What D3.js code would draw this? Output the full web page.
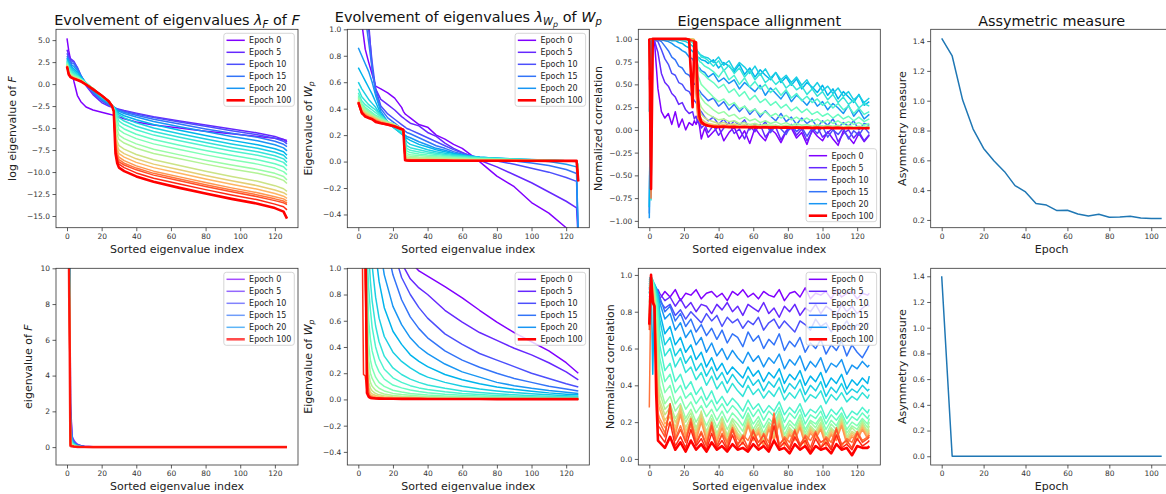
<!DOCTYPE html>
<html><head><meta charset="utf-8">
<script src="https://cdn.jsdelivr.net/npm/d3@7"></script>
<style>body{margin:0;background:#fff}svg{display:block}text{font-family:"DejaVu Sans",sans-serif}</style>
</head><body><svg id="c" width="1166" height="494"></svg>
<script>
// ---------------- data ----------------
const epochs = [0,5,10,15,20,25,30,35,40,45,50,55,60,65,70,75,80,85,90,95,100];
const legendEpochs = [0,5,10,15,20,100];
const xTicksIdx = [0,20,40,60,80,100,120];
const xTicksEpoch = [0,20,40,60,80,100];
const yTicksLogF = [-15,-12.5,-10,-7.5,-5,-2.5,0,2.5,5];
const yTicksWp = [-0.4,-0.2,0,0.2,0.4,0.6,0.8,1.0];
const yTicksAlign = [-1,-0.75,-0.5,-0.25,0,0.25,0.5,0.75,1];
const yTicksAsym = [0.2,0.4,0.6,0.8,1.0,1.2,1.4];
const yTicksF = [0,2,4,6,8,10];
const yTicksAlign2 = [0,0.2,0.4,0.6,0.8,1.0];
const yTicksAsym2 = [0,0.2,0.4,0.6,0.8,1.0,1.2,1.4];

// top-left: log eigenvalue of F
const idxLogF = [0,1,2,4,6,8,11,15,20,24,26,27,28,29,30,33,40,50,65,80,95,110,120,125,127];
const logF = [
[5.2,3.8,2.8,0.3,-1.3,-2.0,-2.6,-2.95,-3.2,-3.4,-3.5,-3.55,-3.6,-3.65,-3.75,-3.95,-4.3,-4.65,-5.0,-5.35,-5.65,-5.95,-6.15,-6.3,-6.4],
[3.9,3.3,2.9,2.6,1.8,0.9,-0.2,-1.2,-2.1,-2.5,-2.65,-2.7,-2.75,-2.8,-2.85,-3.0,-3.3,-3.7,-4.2,-4.65,-5.1,-5.55,-5.95,-6.3,-6.6],
[3.5,3.0,2.7,2.5,1.9,1.0,0.0,-1.0,-1.9,-2.4,-2.6,-2.7,-2.75,-2.85,-2.95,-3.1,-3.4,-3.8,-4.3,-4.8,-5.3,-5.75,-6.15,-6.5,-6.8],
[3.2,2.8,2.5,2.3,1.7,1.0,0.0,-0.9,-1.8,-2.3,-2.55,-2.65,-2.75,-2.9,-3.0,-3.2,-3.55,-4.0,-4.55,-5.1,-5.6,-6.05,-6.5,-6.85,-7.1],
[3.0,2.6,2.3,2.0,1.5,0.9,0.1,-0.8,-1.7,-2.2,-2.5,-2.6,-2.75,-2.95,-3.1,-3.35,-3.75,-4.25,-4.85,-5.4,-5.95,-6.45,-6.9,-7.25,-7.6],
[2.9,2.4,2.1,1.7,1.3,0.8,0.15,-0.7,-1.6,-2.1,-2.45,-2.6,-2.8,-3.05,-3.3,-3.6,-4.05,-4.6,-5.25,-5.85,-6.4,-6.9,-7.35,-7.7,-8.1],
[2.7,2.2,1.9,1.5,1.1,0.7,0.15,-0.6,-1.5,-2.05,-2.4,-2.6,-2.9,-3.2,-3.5,-3.85,-4.4,-5.0,-5.65,-6.25,-6.8,-7.3,-7.75,-8.1,-8.5],
[2.6,2.0,1.7,1.3,1.0,0.65,0.15,-0.55,-1.45,-2.0,-2.4,-2.65,-3.0,-3.4,-3.8,-4.2,-4.8,-5.4,-6.05,-6.65,-7.2,-7.7,-8.15,-8.5,-8.9],
[2.5,1.8,1.5,1.1,0.9,0.6,0.1,-0.5,-1.4,-2.0,-2.4,-2.7,-3.2,-3.7,-4.2,-4.6,-5.2,-5.8,-6.45,-7.05,-7.6,-8.1,-8.55,-8.9,-9.3],
[2.4,1.7,1.3,1.0,0.8,0.55,0.1,-0.5,-1.35,-1.95,-2.4,-2.75,-3.5,-4.1,-4.7,-5.1,-5.7,-6.3,-6.95,-7.55,-8.1,-8.6,-9.05,-9.4,-9.8],
[2.3,1.6,1.2,0.9,0.75,0.5,0.05,-0.5,-1.3,-1.95,-2.4,-2.8,-3.8,-4.6,-5.2,-5.6,-6.2,-6.8,-7.45,-8.05,-8.6,-9.1,-9.55,-9.95,-10.3],
[2.3,1.5,1.1,0.85,0.7,0.5,0.05,-0.5,-1.3,-1.9,-2.4,-2.85,-4.2,-5.2,-5.8,-6.2,-6.8,-7.4,-8.05,-8.65,-9.2,-9.7,-10.15,-10.5,-10.9],
[2.2,1.4,1.05,0.8,0.65,0.45,0.0,-0.5,-1.3,-1.9,-2.4,-2.9,-4.7,-5.8,-6.3,-6.7,-7.3,-7.9,-8.5,-9.1,-9.65,-10.15,-10.6,-10.95,-11.3],
[2.2,1.35,1.0,0.75,0.6,0.45,0.0,-0.5,-1.3,-1.9,-2.4,-2.95,-5.3,-6.5,-7.0,-7.4,-8.0,-8.6,-9.25,-9.9,-10.5,-11.05,-11.55,-11.9,-12.2],
[2.1,1.3,0.95,0.75,0.6,0.4,0.0,-0.5,-1.3,-1.9,-2.4,-3.0,-5.8,-7.0,-7.5,-7.9,-8.5,-9.1,-9.75,-10.4,-11.0,-11.55,-12.05,-12.35,-12.6],
[2.1,1.25,0.9,0.7,0.55,0.4,-0.05,-0.55,-1.3,-1.9,-2.45,-3.0,-6.2,-7.4,-7.9,-8.3,-8.9,-9.5,-10.15,-10.8,-11.4,-11.95,-12.45,-12.75,-13.0],
[2.05,1.2,0.9,0.7,0.55,0.35,-0.05,-0.55,-1.3,-1.9,-2.45,-3.05,-6.6,-7.8,-8.3,-8.7,-9.3,-9.9,-10.55,-11.2,-11.8,-12.35,-12.8,-13.05,-13.3],
[2.05,1.15,0.85,0.65,0.5,0.35,-0.05,-0.55,-1.3,-1.9,-2.45,-3.05,-7.0,-8.1,-8.6,-9.0,-9.55,-10.15,-10.8,-11.45,-12.05,-12.6,-13.05,-13.3,-13.55],
[2.0,1.1,0.85,0.65,0.5,0.35,-0.05,-0.55,-1.3,-1.9,-2.45,-3.1,-7.3,-8.4,-8.85,-9.2,-9.75,-10.35,-11.0,-11.65,-12.25,-12.8,-13.25,-13.5,-13.7],
[2.0,1.1,0.8,0.6,0.5,0.3,-0.05,-0.6,-1.3,-1.95,-2.5,-3.1,-7.6,-8.7,-9.1,-9.5,-10.1,-10.7,-11.35,-12.0,-12.6,-13.15,-13.65,-13.95,-14.3],
[2.0,1.1,0.8,0.6,0.45,0.3,-0.05,-0.6,-1.3,-1.95,-2.5,-3.1,-7.9,-9.0,-9.5,-9.9,-10.5,-11.1,-11.8,-12.45,-13.05,-13.6,-14.1,-14.5,-15.3]
];

// top row, 2nd: eigenvalues of Wp
const idxWp = [0,2,4,6,8,10,13,17,21,25,26,27,28,30,35,40,45,50,55,60,65,70,80,90,100,110,120,126,127];
const eigWp = [
[3.0,1.05,0.85,0.75,0.66,0.57,0.55,0.52,0.48,0.41,0.38,0.36,0.35,0.33,0.28,0.26,0.2,0.17,0.13,0.1,0.05,0.0,-0.11,-0.19,-0.31,-0.39,-0.5,-0.56,-0.6],
[2.5,1.8,1.4,1.05,0.7,0.55,0.47,0.43,0.39,0.34,0.33,0.32,0.31,0.29,0.27,0.22,0.19,0.14,0.1,0.07,0.04,0.01,-0.04,-0.1,-0.16,-0.23,-0.3,-0.35,-0.6],
[2.0,1.6,1.25,1.0,0.75,0.55,0.42,0.36,0.32,0.28,0.27,0.26,0.25,0.24,0.21,0.18,0.15,0.12,0.09,0.065,0.045,0.03,0.005,-0.02,-0.05,-0.08,-0.12,-0.15,-0.6],
[1.5,1.3,1.1,0.9,0.7,0.52,0.4,0.33,0.29,0.25,0.24,0.23,0.22,0.21,0.18,0.15,0.12,0.1,0.075,0.055,0.04,0.03,0.02,0.005,-0.01,-0.03,-0.06,-0.09,-0.6],
[0.86,0.8,0.74,0.68,0.6,0.5,0.38,0.3,0.26,0.22,0.21,0.2,0.19,0.18,0.15,0.125,0.1,0.085,0.065,0.05,0.04,0.032,0.025,0.018,0.01,0.0,-0.02,-0.04,-0.6],
[0.71,0.66,0.61,0.56,0.51,0.45,0.36,0.29,0.25,0.21,0.2,0.19,0.175,0.16,0.13,0.11,0.09,0.075,0.06,0.048,0.04,0.033,0.026,0.02,0.015,0.01,0.005,0.0,-0.1],
[0.6,0.55,0.51,0.47,0.44,0.41,0.35,0.29,0.25,0.21,0.2,0.18,0.15,0.13,0.11,0.09,0.075,0.063,0.053,0.045,0.038,0.032,0.025,0.019,0.014,0.01,0.006,0.002,-0.05],
[0.55,0.49,0.46,0.43,0.41,0.39,0.35,0.3,0.26,0.22,0.2,0.16,0.12,0.105,0.09,0.075,0.063,0.053,0.046,0.04,0.034,0.029,0.023,0.018,0.013,0.009,0.006,0.003,-0.04],
[0.52,0.46,0.43,0.41,0.39,0.37,0.34,0.3,0.27,0.23,0.21,0.14,0.1,0.085,0.073,0.062,0.053,0.045,0.039,0.034,0.03,0.026,0.021,0.016,0.012,0.009,0.006,0.004,-0.03],
[0.5,0.44,0.41,0.39,0.37,0.35,0.33,0.3,0.27,0.235,0.22,0.12,0.08,0.068,0.058,0.05,0.044,0.038,0.033,0.029,0.026,0.023,0.019,0.015,0.012,0.009,0.007,0.005,-0.03],
[0.49,0.43,0.4,0.38,0.36,0.34,0.32,0.3,0.28,0.24,0.225,0.1,0.06,0.052,0.045,0.04,0.036,0.032,0.028,0.025,0.022,0.02,0.017,0.014,0.011,0.009,0.007,0.005,-0.05],
[0.48,0.42,0.39,0.37,0.35,0.34,0.32,0.3,0.28,0.245,0.23,0.08,0.045,0.04,0.035,0.032,0.029,0.026,0.024,0.022,0.02,0.018,0.015,0.013,0.011,0.009,0.007,0.005,-0.06],
[0.47,0.41,0.38,0.36,0.35,0.33,0.31,0.295,0.28,0.25,0.235,0.06,0.035,0.03,0.027,0.025,0.023,0.021,0.019,0.018,0.016,0.015,0.013,0.011,0.01,0.008,0.007,0.005,-0.08],
[0.46,0.4,0.37,0.355,0.34,0.33,0.31,0.29,0.275,0.25,0.24,0.045,0.025,0.022,0.02,0.019,0.018,0.017,0.016,0.015,0.014,0.013,0.012,0.01,0.009,0.008,0.007,0.005,-0.1],
[0.46,0.39,0.365,0.35,0.34,0.325,0.305,0.29,0.275,0.25,0.24,0.035,0.02,0.017,0.016,0.015,0.014,0.013,0.013,0.012,0.012,0.011,0.01,0.009,0.008,0.007,0.006,0.005,-0.11],
[0.45,0.38,0.36,0.345,0.335,0.32,0.3,0.285,0.27,0.25,0.24,0.025,0.015,0.013,0.012,0.012,0.011,0.011,0.01,0.01,0.01,0.009,0.009,0.008,0.007,0.007,0.006,0.005,-0.12],
[0.45,0.38,0.355,0.34,0.33,0.315,0.3,0.285,0.27,0.25,0.24,0.02,0.012,0.011,0.01,0.01,0.01,0.009,0.009,0.009,0.008,0.008,0.008,0.007,0.007,0.006,0.006,0.005,-0.13],
[0.44,0.37,0.35,0.335,0.325,0.31,0.295,0.28,0.27,0.25,0.24,0.015,0.01,0.009,0.009,0.009,0.008,0.008,0.008,0.008,0.007,0.007,0.007,0.007,0.006,0.006,0.006,0.005,-0.14],
[0.44,0.37,0.345,0.33,0.32,0.31,0.29,0.28,0.265,0.245,0.24,0.012,0.009,0.008,0.008,0.008,0.008,0.007,0.007,0.007,0.007,0.007,0.006,0.006,0.006,0.006,0.005,0.005,-0.14],
[0.44,0.36,0.345,0.33,0.32,0.305,0.29,0.275,0.265,0.245,0.24,0.01,0.008,0.007,0.007,0.007,0.007,0.007,0.006,0.006,0.006,0.006,0.006,0.006,0.006,0.005,0.005,0.005,-0.15],
[0.45,0.37,0.34,0.33,0.32,0.3,0.29,0.28,0.265,0.245,0.24,0.01,0.008,0.007,0.007,0.007,0.007,0.007,0.006,0.006,0.006,0.006,0.006,0.006,0.006,0.005,0.005,0.005,-0.15]
];

// top row, 3rd: eigenspace alignment
const idxAlign = [0,1,2,3,5,7,9,11,13,15,17,19,21,23,25,26,27,28,29,30,32,34,37,40,43,46,49,52,55,58,61,64,67,70,73,76,79,82,85,88,91,94,97,100,103,106,109,112,115,118,121,124,127];
const align = [
[0.55,1.0,0.99,0.97,0.45,0.2,0.13,0.18,0.06,0.2,0.03,0.12,0.0,0.08,0.05,0.1,0.06,0.12,0.04,-0.1,0.02,-0.08, -0.02,0.04,-0.12,-0.03,0.03,-0.1,-0.01,-0.15,0.02,-0.06,-0.12,0.01,-0.04,-0.14,-0.02,0.02,-0.09,-0.03,-0.16,0.0,-0.07,-0.12,-0.02,-0.1,-0.17,-0.01,-0.08,-0.15,-0.04,-0.13,-0.06],
[1.0,0.99,0.99,0.98,0.85,0.62,0.52,0.48,0.4,0.36,0.28,0.3,0.22,0.18,0.2,0.12,0.15,0.08,0.1,0.02,0.06,-0.03, 0.05,-0.06,0.02,0.08,-0.04,0.01,-0.1,0.04,-0.02,0.06,-0.08,0.0,0.03,-0.11,-0.01,0.05,-0.06,0.01,-0.12,-0.02,0.03,-0.08,-0.03,0.02,-0.13,-0.04,0.0,-0.09,-0.02,-0.12,-0.05],
[1.0,0.99,0.99,0.99,0.97,0.88,0.78,0.72,0.62,0.6,0.52,0.5,0.44,0.42,0.35,0.32,0.3,0.26,0.22,0.2,0.14,0.1, 0.14,0.06,0.12,0.03,0.1,0.05,0.11,0.0,0.07,0.02,0.09,-0.03,0.05,0.01,-0.05,0.06,-0.02,0.03,-0.07,0.02,-0.04,0.04,-0.08,0.0,-0.05,0.02,-0.1,-0.01,-0.06,0.03,-0.04],
[-0.92,1.0,0.99,0.99,0.99,0.97,0.92,0.87,0.8,0.77,0.7,0.68,0.62,0.6,0.54,0.5,0.5,0.45,0.43,0.4,0.36,0.32, 0.35,0.26,0.31,0.22,0.28,0.2,0.26,0.17,0.23,0.14,0.21,0.15,0.1,0.18,0.09,0.14,0.06,0.13,0.07,0.11,0.03,0.1,0.05,0.12,0.02,0.08,0.04,0.1,0.0,0.07,0.05],
[-0.97,1.0,1.0,0.99,0.99,0.99,0.98,0.97,0.95,0.92,0.9,0.87,0.85,0.8,0.78,0.74,0.73,0.69,0.68,0.65,0.63,0.58, 0.62,0.53,0.57,0.51,0.55,0.45,0.52,0.47,0.42,0.49,0.38,0.46,0.4,0.34,0.42,0.31,0.38,0.33,0.27,0.35,0.26,0.31,0.22,0.29,0.24,0.18,0.27,0.15,0.22,0.12,0.17],
[-0.85,1.0,1.0,1.0,1.0,0.99,0.99,0.99,0.98,0.98,0.96,0.95,0.92,0.9,0.86,0.85,0.82,0.8,0.79,0.77,0.76,0.73, 0.77,0.68,0.74,0.7,0.64,0.72,0.61,0.68,0.58,0.66,0.6,0.55,0.63,0.52,0.58,0.49,0.56,0.45,0.52,0.47,0.41,0.49,0.38,0.45,0.34,0.42,0.36,0.3,0.39,0.27,0.31],
[0.2,1.0,1.0,1.0,1.0,1.0,1.0,0.99,0.99,0.99,0.99,0.98,0.97,0.95,0.92,0.9,0.87,0.86,0.83,0.82,0.8,0.79, 0.74,0.8,0.71,0.76,0.66,0.74,0.69,0.62,0.7,0.6,0.67,0.57,0.63,0.55,0.6,0.52,0.58,0.49,0.55,0.45,0.52,0.43,0.48,0.4,0.46,0.37,0.42,0.33,0.38,0.3,0.35],
[1.0,-0.77,0.99,1.0,1.0,1.0,1.0,1.0,1.0,0.99,0.99,0.99,0.99,0.98,0.96,0.93,0.9,0.86,0.84,0.8,0.79,0.76, 0.7,0.76,0.65,0.71,0.62,0.68,0.58,0.65,0.55,0.62,0.52,0.57,0.5,0.55,0.46,0.51,0.44,0.48,0.39,0.45,0.37,0.42,0.33,0.39,0.3,0.36,0.28,0.33,0.24,0.29,0.26],
[1.0,1.0,1.0,1.0,1.0,1.0,1.0,1.0,1.0,1.0,1.0,0.99,0.99,0.99,0.97,0.93,0.85,0.8,0.75,0.74,0.7,0.68, 0.64,0.58,0.66,0.55,0.6,0.5,0.57,0.47,0.53,0.45,0.5,0.41,0.46,0.38,0.44,0.35,0.4,0.32,0.37,0.3,0.34,0.27,0.31,0.24,0.29,0.22,0.26,0.18,0.24,0.17,0.2],
[0.98,1.0,1.0,1.0,1.0,1.0,1.0,1.0,1.0,1.0,1.0,1.0,0.99,0.99,0.99,0.95,0.8,0.72,0.65,0.63,0.6,0.56, 0.52,0.46,0.5,0.41,0.45,0.37,0.42,0.33,0.38,0.3,0.34,0.27,0.31,0.24,0.28,0.21,0.25,0.19,0.23,0.17,0.2,0.15,0.18,0.13,0.17,0.12,0.15,0.1,0.14,0.09,0.12],
[1.0,1.0,1.0,1.0,1.0,1.0,1.0,1.0,1.0,1.0,1.0,1.0,1.0,0.99,0.99,0.97,0.75,0.6,0.55,0.5,0.46,0.42, 0.36,0.31,0.34,0.27,0.3,0.23,0.26,0.2,0.23,0.17,0.2,0.15,0.18,0.13,0.16,0.11,0.14,0.1,0.13,0.09,0.12,0.08,0.11,0.07,0.1,0.06,0.09,0.06,0.08,0.05,0.07],
[1.0,1.0,1.0,1.0,1.0,1.0,1.0,1.0,1.0,1.0,1.0,1.0,1.0,1.0,0.99,0.98,0.7,0.45,0.4,0.35,0.3,0.27, 0.22,0.18,0.2,0.15,0.17,0.12,0.14,0.1,0.12,0.08,0.1,0.07,0.09,0.06,0.08,0.05,0.07,0.05,0.06,0.04,0.06,0.04,0.05,0.04,0.05,0.03,0.05,0.03,0.04,0.03,0.04],
[1.0,1.0,1.0,1.0,1.0,1.0,1.0,1.0,1.0,1.0,1.0,1.0,1.0,1.0,1.0,0.99,0.65,0.35,0.3,0.25,0.2,0.17, 0.14,0.11,0.12,0.09,0.1,0.07,0.08,0.06,0.07,0.05,0.06,0.05,0.05,0.04,0.05,0.04,0.045,0.035,0.04,0.035,0.04,0.03,0.04,0.03,0.035,0.03,0.035,0.025,0.03,0.025,0.03],
[1.0,1.0,1.0,1.0,1.0,1.0,1.0,1.0,1.0,1.0,1.0,1.0,1.0,1.0,1.0,0.99,0.6,0.28,0.22,0.17,0.13,0.11, 0.09,0.07,0.08,0.06,0.065,0.05,0.055,0.045,0.05,0.04,0.045,0.04,0.04,0.035,0.04,0.035,0.035,0.03,0.035,0.03,0.03,0.03,0.03,0.025,0.03,0.025,0.03,0.025,0.025,0.02,0.025],
[1.0,1.0,1.0,1.0,1.0,1.0,1.0,1.0,1.0,1.0,1.0,1.0,1.0,1.0,1.0,0.99,0.55,0.22,0.16,0.12,0.09,0.07, 0.06,0.05,0.055,0.045,0.05,0.04,0.045,0.04,0.042,0.036,0.04,0.035,0.038,0.033,0.036,0.03,0.035,0.03,0.033,0.028,0.032,0.027,0.03,0.026,0.03,0.025,0.028,0.024,0.027,0.023,0.025],
[1.0,1.0,1.0,1.0,1.0,1.0,1.0,1.0,1.0,1.0,1.0,1.0,1.0,1.0,0.99,0.99,0.5,0.18,0.13,0.1,0.07,0.06, 0.05,0.045,0.05,0.04,0.045,0.038,0.042,0.035,0.04,0.033,0.038,0.032,0.036,0.03,0.034,0.03,0.033,0.028,0.032,0.027,0.03,0.026,0.03,0.025,0.028,0.024,0.027,0.023,0.026,0.022,0.024],
[1.0,1.0,1.0,1.0,1.0,1.0,1.0,1.0,1.0,1.0,1.0,1.0,1.0,1.0,0.98,0.99,0.45,0.15,0.11,0.08,0.06,0.05, 0.045,0.04,0.042,0.036,0.04,0.034,0.038,0.032,0.036,0.03,0.034,0.029,0.032,0.028,0.031,0.027,0.03,0.026,0.029,0.025,0.028,0.024,0.027,0.023,0.026,0.022,0.025,0.021,0.024,0.02,0.022],
[1.0,-0.75,1.0,1.0,1.0,1.0,1.0,1.0,1.0,1.0,1.0,1.0,1.0,1.0,0.97,0.98,0.4,0.13,0.1,0.07,0.055,0.05, 0.042,0.038,0.04,0.034,0.038,0.032,0.035,0.03,0.034,0.029,0.032,0.028,0.031,0.027,0.03,0.026,0.029,0.025,0.028,0.024,0.027,0.023,0.026,0.022,0.025,0.021,0.024,0.02,0.023,0.02,0.021],
[1.0,1.0,1.0,1.0,1.0,1.0,1.0,1.0,1.0,1.0,1.0,1.0,1.0,0.99,0.3,0.95,0.93,0.25,0.12,0.08,0.055,0.045, 0.04,0.036,0.038,0.032,0.036,0.03,0.034,0.029,0.032,0.028,0.031,0.027,0.03,0.026,0.029,0.025,0.028,0.024,0.027,0.023,0.026,0.022,0.025,0.021,0.024,0.02,0.023,0.02,0.022,0.019,0.02],
[1.0,1.0,1.0,1.0,1.0,1.0,1.0,1.0,1.0,1.0,1.0,1.0,1.0,0.99,0.98,0.97,0.96,0.35,0.12,0.07,0.05,0.04, 0.038,0.034,0.036,0.031,0.034,0.029,0.032,0.028,0.031,0.027,0.03,0.026,0.029,0.025,0.028,0.024,0.027,0.023,0.026,0.022,0.025,0.021,0.024,0.02,0.023,0.02,0.022,0.019,0.021,0.018,0.02],
[1.0,-0.65,1.0,1.0,1.0,1.0,1.0,1.0,1.0,1.0,1.0,1.0,1.0,0.99,0.25,0.97,0.96,0.4,0.15,0.09,0.06,0.045, 0.035,0.032,0.034,0.03,0.032,0.028,0.031,0.027,0.03,0.026,0.029,0.025,0.028,0.024,0.027,0.023,0.026,0.022,0.025,0.021,0.024,0.02,0.023,0.019,0.022,0.018,0.021,0.018,0.02,0.017,0.019]
];

// top row, 4th: asymmetry
const asymEpochs = [0,5,10,15,20,25,30,35,40,45,50,55,60,65,70,75,80,85,90,95,100,105];
const asym = [1.418,1.30,1.004,0.81,0.68,0.595,0.524,0.43,0.388,0.31,0.30,0.263,0.265,0.24,0.227,0.238,0.218,0.22,0.225,0.213,0.209,0.209];

// bottom row, 1st: eigenvalue of F
const idxF2 = [0,1,2,3,4,5,6,8,10,15,30,127];
const eigF2 = [
[80,30,2.5,0.6,0.38,0.25,0.17,0.09,0.05,0.02,0.005,0],
[75,28,2.2,0.55,0.35,0.22,0.15,0.08,0.045,0.018,0.005,0],
[70,26,2.0,0.5,0.32,0.2,0.13,0.07,0.04,0.016,0.004,0],
[65,24,1.7,0.45,0.29,0.18,0.12,0.06,0.035,0.014,0.004,0],
[60,22,1.4,0.4,0.26,0.16,0.1,0.05,0.03,0.012,0.003,0],
[56,20,1.1,0.35,0.22,0.14,0.09,0.045,0.027,0.011,0.003,0],
[52,19,0.9,0.3,0.19,0.12,0.08,0.04,0.024,0.01,0.003,0],
[50,18,0.75,0.26,0.16,0.1,0.07,0.035,0.021,0.009,0.002,0],
[48,17,0.6,0.22,0.14,0.09,0.06,0.03,0.019,0.008,0.002,0],
[46,16,0.5,0.19,0.12,0.08,0.05,0.027,0.017,0.007,0.002,0],
[45,15.5,0.4,0.16,0.1,0.07,0.045,0.024,0.015,0.006,0.002,0],
[44,15,0.33,0.14,0.09,0.06,0.04,0.021,0.013,0.005,0.001,0],
[43,14.5,0.27,0.12,0.08,0.05,0.035,0.019,0.012,0.005,0.001,0],
[42,14,0.22,0.1,0.07,0.045,0.03,0.017,0.011,0.004,0.001,0],
[41,13.5,0.18,0.09,0.06,0.04,0.027,0.015,0.01,0.004,0.001,0],
[40,13,0.15,0.08,0.05,0.035,0.024,0.013,0.009,0.003,0.001,0],
[40,12.8,0.12,0.07,0.045,0.03,0.021,0.012,0.008,0.003,0.001,0],
[40,12.6,0.1,0.06,0.04,0.027,0.019,0.011,0.007,0.003,0.001,0],
[40,12.4,0.08,0.05,0.035,0.024,0.017,0.01,0.006,0.002,0.001,0],
[40,12.2,0.07,0.045,0.03,0.021,0.015,0.009,0.006,0.002,0.001,0],
[40,12,0.06,0.04,0.028,0.019,0.014,0.008,0.005,0.002,0.001,0]
];

// bottom row, 2nd: eigenvalue of Wp
const idxWp2 = [0,2,3,4,5,6,7,8,10,12,15,20,25,30,35,40,50,60,70,80,90,100,110,120,127];
const eigWp2 = [
[30,15,12,9.5,8,6.8,5.9,5.2,4.1,3.4,2.6,1.6,1.25,1.05,0.98,0.94,0.86,0.775,0.68,0.59,0.51,0.44,0.37,0.28,0.2],
[25,12,10,8,6.5,5.5,4.8,4.2,3.3,2.7,2.0,1.35,1.04,0.92,0.85,0.8,0.68,0.59,0.51,0.45,0.39,0.34,0.28,0.21,0.15],
[20,10,8,6.5,5.3,4.5,3.9,3.4,2.6,2.1,1.6,1.15,0.93,0.8,0.7,0.62,0.5,0.42,0.35,0.3,0.25,0.2,0.16,0.12,0.095],
[16,8,6.5,5.2,4.3,3.6,3.1,2.7,2.05,1.65,1.25,0.95,0.76,0.63,0.54,0.47,0.37,0.3,0.245,0.2,0.16,0.13,0.1,0.08,0.065],
[13,6.5,5.2,4.2,3.4,2.8,2.4,2.05,1.5,1.2,0.95,0.71,0.57,0.47,0.4,0.35,0.27,0.21,0.17,0.13,0.105,0.085,0.068,0.055,0.045],
[10,5,4,3.2,2.6,2.1,1.75,1.5,1.12,0.9,0.7,0.52,0.42,0.34,0.29,0.25,0.19,0.15,0.12,0.095,0.077,0.063,0.05,0.04,0.035],
[8,4,3.1,2.4,1.9,1.5,1.22,1.02,0.78,0.62,0.48,0.36,0.29,0.24,0.2,0.17,0.13,0.1,0.08,0.065,0.052,0.043,0.035,0.028,0.025],
[7,3.3,2.5,1.9,1.45,1.12,0.9,0.75,0.56,0.44,0.33,0.24,0.19,0.155,0.13,0.11,0.085,0.065,0.053,0.043,0.035,0.029,0.024,0.02,0.018],
[6,2.8,2.0,1.5,1.12,0.85,0.68,0.55,0.4,0.31,0.23,0.165,0.13,0.105,0.088,0.075,0.058,0.046,0.037,0.03,0.025,0.021,0.017,0.014,0.013],
[5.5,2.5,1.8,1.3,0.95,0.6,0.46,0.37,0.27,0.21,0.155,0.11,0.088,0.072,0.06,0.051,0.04,0.032,0.026,0.021,0.018,0.015,0.012,0.01,0.009],
[5,2.3,1.6,1.2,0.85,0.42,0.3,0.24,0.17,0.13,0.1,0.07,0.056,0.046,0.039,0.033,0.026,0.021,0.017,0.014,0.012,0.01,0.008,0.007,0.006],
[5,2.2,1.5,1.15,0.75,0.3,0.2,0.16,0.11,0.085,0.065,0.046,0.037,0.031,0.026,0.022,0.018,0.015,0.012,0.01,0.008,0.007,0.006,0.005,0.005],
[5,2.1,1.5,1.1,0.6,0.2,0.13,0.1,0.07,0.055,0.042,0.03,0.024,0.02,0.017,0.015,0.012,0.01,0.008,0.007,0.006,0.005,0.004,0.004,0.004],
[5,2.0,1.4,1.1,0.5,0.13,0.085,0.065,0.045,0.035,0.028,0.02,0.016,0.014,0.012,0.01,0.008,0.007,0.006,0.005,0.004,0.004,0.003,0.003,0.003],
[5,2.0,1.4,1.05,0.42,0.09,0.055,0.042,0.03,0.024,0.019,0.014,0.012,0.01,0.009,0.008,0.006,0.005,0.004,0.004,0.003,0.003,0.003,0.002,0.002],
[5,2.0,1.4,1.05,0.35,0.06,0.037,0.028,0.02,0.016,0.013,0.01,0.009,0.008,0.007,0.006,0.005,0.004,0.004,0.003,0.003,0.003,0.002,0.002,0.002],
[5,2.0,1.4,1.0,0.3,0.045,0.027,0.02,0.014,0.012,0.01,0.008,0.007,0.006,0.005,0.005,0.004,0.004,0.003,0.003,0.003,0.002,0.002,0.002,0.002],
[5,2.0,1.4,1.0,0.25,0.035,0.022,0.016,0.012,0.01,0.008,0.007,0.006,0.005,0.005,0.004,0.004,0.003,0.003,0.003,0.002,0.002,0.002,0.002,0.002],
[5,2.0,1.3,0.9,0.2,0.03,0.018,0.014,0.01,0.008,0.007,0.006,0.005,0.005,0.004,0.004,0.003,0.003,0.003,0.002,0.002,0.002,0.002,0.002,0.002],
[6,1.6,0.19,0.18,0.06,0.025,0.015,0.012,0.008,0.007,0.006,0.005,0.005,0.004,0.004,0.004,0.003,0.003,0.003,0.002,0.002,0.002,0.002,0.002,0.002],
[8,3.0,2.0,1.5,0.05,0.02,0.012,0.01,0.007,0.006,0.005,0.005,0.004,0.004,0.004,0.003,0.003,0.003,0.003,0.002,0.002,0.002,0.002,0.002,0.002]
];

// bottom row, 3rd: alignment
const idxAlign2 = [0,1,2,3,4,5,6,9,12,15,18,21,24,27,30,33,36,39,42,45,48,51,54,57,60,63,66,69,72,75,78,81,84,87,90,93,96,99,102,105,108,111,114,117,120,123,126,127];
const align2 = [
[0.88,0.9,0.92,0.89,0.91,0.87, 0.87,0.91,0.88,0.92,0.86,0.9,0.89,0.92,0.87,0.9,0.91,0.88,0.9,0.86,0.91,0.89,0.92,0.88,0.9,0.87,0.91,0.89,0.88,0.92,0.86,0.9,0.91,0.88,0.93,0.87,0.9,0.89,0.91,0.87,0.92,0.88,0.9,0.91,0.87,0.9,0.89,0.9],
[0.93,0.95,0.91,0.93,0.9,0.92, 0.9,0.86,0.88,0.83,0.87,0.82,0.85,0.8,0.84,0.83,0.79,0.84,0.81,0.85,0.8,0.83,0.78,0.84,0.82,0.8,0.85,0.79,0.82,0.77,0.83,0.8,0.84,0.78,0.82,0.8,0.84,0.79,0.83,0.81,0.78,0.84,0.8,0.83,0.79,0.82,0.84,0.83],
[0.9,0.96,0.94,0.92,0.93,0.89, 0.86,0.82,0.84,0.78,0.81,0.76,0.8,0.77,0.74,0.79,0.75,0.78,0.72,0.77,0.74,0.76,0.71,0.75,0.73,0.77,0.7,0.74,0.76,0.71,0.75,0.72,0.69,0.75,0.73,0.7,0.76,0.72,0.74,0.69,0.73,0.71,0.75,0.7,0.73,0.72,0.74,0.73],
[0.92,0.97,0.95,0.93,0.92,0.91, 0.88,0.8,0.83,0.75,0.79,0.72,0.76,0.69,0.73,0.67,0.71,0.65,0.7,0.63,0.68,0.66,0.61,0.69,0.64,0.67,0.6,0.65,0.62,0.68,0.59,0.64,0.61,0.66,0.58,0.63,0.6,0.65,0.57,0.62,0.59,0.64,0.56,0.62,0.58,0.55,0.6,0.62],
[0.95,0.98,0.96,0.94,0.93,0.9, 0.85,0.76,0.79,0.7,0.74,0.66,0.7,0.62,0.66,0.58,0.63,0.56,0.6,0.54,0.59,0.55,0.52,0.58,0.53,0.56,0.5,0.55,0.52,0.57,0.49,0.54,0.51,0.56,0.48,0.53,0.5,0.55,0.47,0.52,0.5,0.54,0.46,0.51,0.49,0.53,0.5,0.51],
[0.97,0.99,0.46,0.95,0.93,0.9, 0.8,0.68,0.72,0.62,0.66,0.58,0.62,0.54,0.58,0.5,0.55,0.48,0.52,0.46,0.5,0.47,0.44,0.5,0.45,0.48,0.42,0.47,0.44,0.49,0.41,0.46,0.43,0.48,0.4,0.45,0.42,0.47,0.39,0.44,0.41,0.46,0.38,0.43,0.4,0.44,0.41,0.45],
[0.98,0.99,0.97,0.95,0.92,0.88, 0.76,0.62,0.66,0.56,0.6,0.52,0.56,0.48,0.52,0.45,0.5,0.43,0.47,0.41,0.46,0.42,0.39,0.45,0.4,0.43,0.37,0.42,0.39,0.44,0.36,0.41,0.38,0.43,0.35,0.4,0.37,0.42,0.34,0.39,0.36,0.41,0.35,0.38,0.36,0.4,0.37,0.38],
[0.96,0.99,0.97,0.94,0.9,0.85, 0.7,0.56,0.6,0.5,0.55,0.47,0.5,0.43,0.47,0.4,0.45,0.38,0.42,0.36,0.41,0.37,0.34,0.4,0.35,0.38,0.33,0.37,0.34,0.39,0.32,0.36,0.33,0.38,0.31,0.35,0.33,0.37,0.3,0.35,0.32,0.36,0.31,0.34,0.32,0.36,0.33,0.35],
[0.94,0.99,0.97,0.93,0.87,0.8, 0.62,0.48,0.52,0.42,0.46,0.38,0.42,0.35,0.39,0.32,0.37,0.3,0.34,0.29,0.33,0.3,0.26,0.32,0.27,0.3,0.25,0.29,0.26,0.31,0.24,0.28,0.25,0.3,0.23,0.27,0.25,0.29,0.22,0.27,0.24,0.28,0.22,0.26,0.24,0.28,0.25,0.27],
[0.93,0.98,0.96,0.92,0.85,0.76, 0.55,0.42,0.46,0.36,0.4,0.33,0.36,0.3,0.34,0.28,0.32,0.26,0.3,0.25,0.29,0.26,0.22,0.28,0.23,0.27,0.21,0.26,0.23,0.28,0.2,0.25,0.22,0.27,0.19,0.24,0.22,0.26,0.19,0.24,0.21,0.25,0.19,0.23,0.21,0.25,0.22,0.24],
[0.9,0.98,0.96,0.9,0.8,0.68, 0.48,0.36,0.4,0.3,0.34,0.27,0.31,0.25,0.29,0.23,0.27,0.21,0.26,0.2,0.25,0.22,0.18,0.25,0.19,0.23,0.17,0.22,0.19,0.26,0.16,0.21,0.18,0.24,0.16,0.21,0.19,0.23,0.16,0.21,0.18,0.24,0.16,0.2,0.18,0.22,0.19,0.22],
[0.85,0.97,0.95,0.9,0.8,0.6, 0.4,0.3,0.34,0.26,0.3,0.22,0.27,0.2,0.25,0.18,0.24,0.17,0.23,0.16,0.22,0.19,0.15,0.24,0.16,0.21,0.14,0.2,0.17,0.25,0.13,0.19,0.16,0.23,0.14,0.2,0.17,0.22,0.13,0.19,0.16,0.23,0.14,0.18,0.16,0.21,0.17,0.2],
[0.8,0.97,0.94,0.88,0.75,0.5, 0.36,0.27,0.3,0.22,0.27,0.2,0.25,0.17,0.23,0.15,0.22,0.14,0.2,0.13,0.21,0.16,0.12,0.22,0.14,0.19,0.12,0.18,0.15,0.24,0.11,0.17,0.14,0.21,0.12,0.18,0.15,0.2,0.11,0.17,0.14,0.22,0.12,0.17,0.14,0.2,0.15,0.18],
[0.78,0.98,0.93,0.87,0.7,0.42, 0.32,0.24,0.28,0.2,0.25,0.17,0.23,0.15,0.26,0.13,0.2,0.12,0.22,0.12,0.19,0.14,0.11,0.21,0.13,0.17,0.1,0.19,0.13,0.22,0.1,0.16,0.13,0.2,0.1,0.17,0.14,0.19,0.1,0.16,0.13,0.21,0.11,0.15,0.13,0.19,0.14,0.16],
[0.75,0.99,0.92,0.86,0.65,0.36, 0.3,0.21,0.25,0.17,0.29,0.15,0.21,0.13,0.24,0.12,0.19,0.11,0.2,0.1,0.18,0.13,0.1,0.2,0.12,0.16,0.09,0.18,0.12,0.21,0.09,0.15,0.12,0.19,0.09,0.16,0.13,0.18,0.09,0.15,0.12,0.2,0.1,0.14,0.12,0.18,0.13,0.15],
[0.74,0.99,0.9,0.85,0.6,0.3, 0.27,0.19,0.23,0.15,0.26,0.13,0.2,0.12,0.22,0.11,0.18,0.1,0.19,0.09,0.17,0.12,0.09,0.19,0.11,0.15,0.08,0.17,0.11,0.2,0.08,0.14,0.11,0.18,0.08,0.15,0.12,0.17,0.08,0.14,0.11,0.19,0.09,0.13,0.11,0.17,0.12,0.14],
[0.72,1.0,0.88,0.84,0.55,0.25, 0.22,0.17,0.2,0.13,0.24,0.12,0.18,0.1,0.2,0.1,0.16,0.09,0.17,0.08,0.15,0.11,0.08,0.18,0.1,0.14,0.07,0.16,0.1,0.19,0.07,0.13,0.1,0.17,0.07,0.14,0.11,0.16,0.07,0.13,0.1,0.18,0.08,0.12,0.1,0.16,0.11,0.13],
[0.28,0.99,0.87,0.84,0.5,0.22, 0.2,0.14,0.27,0.11,0.18,0.1,0.22,0.09,0.15,0.08,0.2,0.07,0.14,0.09,0.17,0.07,0.13,0.1,0.16,0.06,0.14,0.09,0.25,0.07,0.12,0.09,0.16,0.06,0.13,0.1,0.15,0.06,0.12,0.09,0.17,0.07,0.11,0.09,0.15,0.1,0.12,0.13],
[0.7,1.0,0.86,0.83,0.45,0.18, 0.17,0.12,0.3,0.1,0.16,0.09,0.2,0.08,0.14,0.07,0.18,0.07,0.13,0.06,0.16,0.08,0.12,0.06,0.15,0.09,0.13,0.06,0.22,0.08,0.11,0.06,0.15,0.08,0.12,0.06,0.14,0.09,0.11,0.06,0.16,0.08,0.1,0.06,0.14,0.09,0.11,0.12],
[0.73,0.99,0.85,0.82,0.4,0.14, 0.13,0.09,0.2,0.07,0.12,0.06,0.16,0.07,0.11,0.05,0.14,0.06,0.1,0.05,0.13,0.06,0.09,0.05,0.12,0.07,0.1,0.05,0.18,0.06,0.09,0.05,0.12,0.07,0.1,0.04,0.11,0.06,0.09,0.05,0.13,0.06,0.08,0.05,0.11,0.07,0.09,0.1],
[0.73,1.0,0.85,0.83,0.35,0.1, 0.09,0.06,0.12,0.05,0.09,0.04,0.1,0.05,0.08,0.04,0.09,0.05,0.07,0.04,0.08,0.05,0.06,0.04,0.08,0.05,0.07,0.04,0.1,0.05,0.06,0.03,0.08,0.05,0.07,0.03,0.07,0.05,0.06,0.03,0.08,0.05,0.06,0.02,0.07,0.06,0.06,0.07]
];

// bottom row, 4th: asymmetry
const asym2 = [1.40,0.0,0.0,0.0,0.0,0.0,0.0,0.0,0.0,0.0,0.0,0.0,0.0,0.0,0.0,0.0,0.0,0.0,0.0,0.0,0.0,0.0];

// ---------------- drawing ----------------
const svg = d3.select('#c');
const W = 242;
const ROW = [[29.3,227.7],[268.3,465]];
const LEFT = [56,347.3,638.3,930.7];
const TICK_FS = 7.5, LABEL_FS = 11, TITLE_FS = 14.4, LEG_FS = 8;
const EIDX = [-6.35,133.35];

function rainbow(t){
  const r = Math.min(1,Math.abs(2*t-0.5)), g = Math.min(1,Math.sin(Math.PI*t)), b = Math.min(1,Math.cos(Math.PI*t/2));
  return d3.rgb(Math.round(r*255),Math.round(g*255),Math.round(b*255)).formatHex();
}
const colors = epochs.map((e,i)=>rainbow(i/(epochs.length-1)));
const widths = epochs.map((e,i)=> i===epochs.length-1 ? 2.6 : 1.5);

function fmt(d){ return v => (v<0?'\u2212':'') + Math.abs(v).toFixed(d); }

function addMath(text, segs, fs){
  const sizes=[1,0.7,0.55], offs=[0,0.22,0.37];
  let lvl=0;
  segs.forEach(s=>{
    const t=s[0], o=s[1]||{}; const L=o.sub||0;
    const ts=text.append('tspan').text(t).attr('font-size',fs*sizes[L]);
    const dy=(offs[L]-offs[lvl])*fs; if(dy!==0) ts.attr('dy',dy);
    if(o.it) ts.attr('font-style','italic');
    lvl=L;
  });
}

let clipN = 0;
function panel(cfg){
  const x0 = LEFT[cfg.col], [top,bot] = ROW[cfg.row];
  const x = d3.scaleLinear().domain(cfg.xDomain).range([x0,x0+W]);
  const y = d3.scaleLinear().domain(cfg.yDomain).range([bot,top]);
  const g = svg.append('g');
  const cid = 'clip'+(clipN++);
  g.append('clipPath').attr('id',cid).append('rect').attr('x',x0).attr('y',top).attr('width',W).attr('height',bot-top);
  const lg = g.append('g').attr('clip-path',`url(#${cid})`);
  const line = d3.line().x(d=>x(d[0])).y(d=>y(d[1]));
  cfg.series.forEach(s=>{
    if(s.xs.length!==s.ys.length) console.error('length mismatch', cfg.name, s.label, s.xs.length, s.ys.length);
    const n=Math.min(s.xs.length,s.ys.length);
    const pts=[]; for(let i=0;i<n;i++) pts.push([s.xs[i],s.ys[i]]);
    lg.append('path').attr('d',line(pts)).attr('fill','none').attr('stroke',s.color)
      .attr('stroke-width',s.width).attr('stroke-opacity',s.alpha==null?1:s.alpha)
      .attr('stroke-linejoin','round').attr('stroke-linecap','butt');
  });
  const ax = g.append('g').attr('transform',`translate(0,${bot})`)
    .call(d3.axisBottom(x).tickValues(cfg.xTicks).tickFormat(fmt(0)).tickSize(3.5).tickPadding(2.5).tickSizeOuter(0));
  const ay = g.append('g').attr('transform',`translate(${x0},0)`)
    .call(d3.axisLeft(y).tickValues(cfg.yTicks).tickFormat(fmt(cfg.yDec)).tickSize(3.5).tickPadding(2.5).tickSizeOuter(0));
  [ax,ay].forEach(a=>{
    a.select('.domain').remove();
    a.selectAll('line').attr('stroke','#333').attr('stroke-width',0.8);
    a.selectAll('text').attr('font-size',TICK_FS).attr('fill','#333').attr('font-family','"DejaVu Sans",sans-serif');
  });
  g.append('rect').attr('x',x0).attr('y',top).attr('width',W).attr('height',bot-top)
    .attr('fill','none').attr('stroke','#333').attr('stroke-width',0.8);
  const xl = g.append('text').attr('x',x0+W/2).attr('y',bot+25.3).attr('text-anchor','middle')
    .attr('font-size',LABEL_FS).attr('fill','#222');
  addMath(xl, cfg.xlabel, LABEL_FS);
  const cy=(top+bot)/2;
  const yl = g.append('text').attr('transform',`translate(${cfg.ylabelX},${cy}) rotate(-90)`).attr('text-anchor','middle')
    .attr('font-size',LABEL_FS).attr('fill','#222');
  addMath(yl, cfg.ylabel, LABEL_FS);
  if(cfg.title){
    const tt = g.append('text').attr('x',x0+W/2).attr('y',cfg.titleY).attr('text-anchor','middle')
      .attr('font-size',TITLE_FS).attr('fill','#111');
    addMath(tt, cfg.title, TITLE_FS);
  }
  if(cfg.legend){
    const lw=70.5, lh=73;
    const lx = x0+W-3.7-lw;
    const ly = cfg.legend==='lower' ? bot-6-lh : top+4;
    const L = g.append('g');
    L.append('rect').attr('x',lx).attr('y',ly).attr('width',lw).attr('height',lh).attr('rx',2.5)
      .attr('fill','#fff').attr('fill-opacity',0.8).attr('stroke','#ccc').attr('stroke-width',0.8);
    legendEpochs.forEach((e,k)=>{
      const i = epochs.indexOf(e);
      const yy = ly+7+k*12;
      L.append('line').attr('x1',lx+2.7).attr('x2',lx+21).attr('y1',yy).attr('y2',yy)
        .attr('stroke',colors[i]).attr('stroke-width',widths[i]).attr('stroke-opacity',cfg.alpha==null?1:cfg.alpha);
      L.append('text').attr('x',lx+25.3).attr('y',yy).attr('dy','0.35em').attr('font-size',LEG_FS).attr('fill','#222').text('Epoch '+e);
    });
  }
}

function eigSeries(xs, rows, alpha){
  return rows.map((r,i)=>({xs:xs, ys:r, color:colors[i], width:widths[i], alpha:alpha, label:epochs[i]}));
}

const XLAB = [["Sorted eigenvalue index"]];
const F_it = ["F",{it:1}];

panel({name:'logF',row:0,col:0,xDomain:EIDX,yDomain:[-16.33,6.23],xTicks:xTicksIdx,yTicks:yTicksLogF,yDec:1,
  series:eigSeries(idxLogF,logF),xlabel:XLAB,ylabel:[["log eigenvalue of "],F_it],ylabelX:16.3,titleY:25,
  title:[["Evolvement of eigenvalues "],["\u03bb",{it:1}],["F",{it:1,sub:1}],[" of "],F_it],legend:'upper'});
panel({name:'Wp',row:0,col:1,xDomain:EIDX,yDomain:[-0.5,1.0],xTicks:xTicksIdx,yTicks:yTicksWp,yDec:1,
  series:eigSeries(idxWp,eigWp),xlabel:XLAB,ylabel:[["Eigenvalue of "],["W",{it:1}],["p",{it:1,sub:1}]],ylabelX:311.9,titleY:21.7,
  title:[["Evolvement of eigenvalues "],["\u03bb",{it:1}],["W",{it:1,sub:1}],["p",{it:1,sub:2}],[" of "],["W",{it:1}],["p",{it:1,sub:1}]],legend:'upper'});
panel({name:'align',row:0,col:2,xDomain:EIDX,yDomain:[-1.075,1.105],xTicks:xTicksIdx,yTicks:yTicksAlign,yDec:2,
  series:eigSeries(idxAlign,align),xlabel:XLAB,ylabel:[["Normalized correlation"]],ylabelX:601.9,titleY:25.5,
  title:[["Eigenspace allignment"]],legend:'lower'});
panel({name:'asym',row:0,col:3,xDomain:[-5.25,110.25],yDomain:[0.148,1.479],xTicks:xTicksEpoch,yTicks:yTicksAsym,yDec:1,
  series:[{xs:asymEpochs,ys:asym,color:'#1f77b4',width:1.5,label:'asym'}],xlabel:[["Epoch"]],ylabel:[["Asymmetry measure"]],ylabelX:905.9,titleY:25.5,
  title:[["Assymetric measure"]]});

panel({name:'F2',row:1,col:0,xDomain:EIDX,yDomain:[-1,10],xTicks:xTicksIdx,yTicks:yTicksF,yDec:0,
  series:eigSeries(idxF2,eigF2,0.7),xlabel:XLAB,ylabel:[["eigenvalue of "],F_it],ylabelX:31.9,legend:'upper',alpha:0.7});
panel({name:'Wp2',row:1,col:1,xDomain:EIDX,yDomain:[-0.5,1.0],xTicks:xTicksIdx,yTicks:yTicksWp,yDec:1,
  series:eigSeries(idxWp2,eigWp2),xlabel:XLAB,ylabel:[["Eigenvalue of "],["W",{it:1}],["p",{it:1,sub:1}]],ylabelX:311.9,legend:'upper'});
panel({name:'align2',row:1,col:2,xDomain:EIDX,yDomain:[-0.033,1.036],xTicks:xTicksIdx,yTicks:yTicksAlign2,yDec:1,
  series:eigSeries(idxAlign2,align2),xlabel:XLAB,ylabel:[["Normalized correlation"]],ylabelX:613.9,legend:'upper'});
panel({name:'asym2',row:1,col:3,xDomain:[-5.25,110.25],yDomain:[-0.068,1.462],xTicks:xTicksEpoch,yTicks:yTicksAsym2,yDec:1,
  series:[{xs:asymEpochs,ys:asym2,color:'#1f77b4',width:1.5,label:'asym2'}],xlabel:[["Epoch"]],ylabel:[["Asymmetry measure"]],ylabelX:905.9});
</script></body></html>
